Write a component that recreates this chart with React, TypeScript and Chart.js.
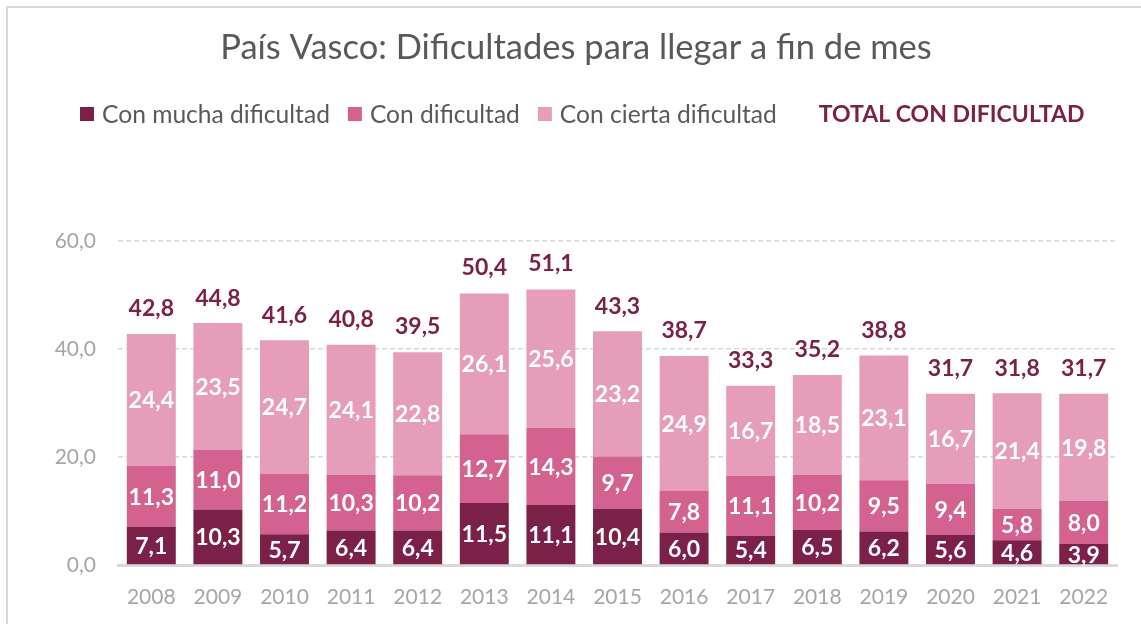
import React, { useEffect, useRef } from "react";
import { Chart, registerables } from "chart.js";

Chart.register(...registerables);

const categories = ["2008", "2009", "2010", "2011", "2012", "2013", "2014", "2015", "2016", "2017", "2018", "2019", "2020", "2021", "2022"];
const muchaDificultad = [7.1, 10.3, 5.7, 6.4, 6.4, 11.5, 11.1, 10.4, 6.0, 5.4, 6.5, 6.2, 5.6, 4.6, 3.9];
const conDificultad = [11.3, 11.0, 11.2, 10.3, 10.2, 12.7, 14.3, 9.7, 7.8, 11.1, 10.2, 9.5, 9.4, 5.8, 8.0];
const ciertaDificultad = [24.4, 23.5, 24.7, 24.1, 22.8, 26.1, 25.6, 23.2, 24.9, 16.7, 18.5, 23.1, 16.7, 21.4, 19.8];
const totalDificultad = [42.8, 44.8, 41.6, 40.8, 39.5, 50.4, 51.1, 43.3, 38.7, 33.3, 35.2, 38.8, 31.7, 31.8, 31.7];
const yTicks = [0, 20, 40, 60];

const TITLE = "País Vasco: Dificultades para llegar a fin de mes";
const COLORS = ["#7B2046", "#D4628E", "#E69DB9"];
const TOTAL_COLOR = "#7B2046";
const FONT = "Lato, 'Open Sans', sans-serif";

const fmt = (v: number) => v.toFixed(1).replace(".", ",");

const decorPlugin = {
  id: "decor",
  beforeDraw(chart: any) {
    const ctx = chart.ctx;
    ctx.save();
    ctx.fillStyle = "#ffffff";
    ctx.fillRect(0, 0, chart.width, chart.height);
    ctx.strokeStyle = "#d9d9d9";
    ctx.lineWidth = 2;
    ctx.strokeRect(7, 7, chart.width + 50, chart.height + 50);
    // title
    ctx.fillStyle = "#595959";
    ctx.font = `34.5px ${FONT}`;
    ctx.textAlign = "center";
    ctx.textBaseline = "middle";
    ctx.fillText(TITLE, 576, 48);
    // legend
    const names = ["Con mucha dificultad", "Con dificultad", "Con cierta dificultad"];
    let x = 80;
    const y = 114;
    ctx.textAlign = "left";
    ctx.font = `24.6px ${FONT}`;
    names.forEach((n, i) => {
      ctx.fillStyle = COLORS[i];
      ctx.fillRect(x, y - 7, 14, 14);
      x += 22;
      ctx.fillStyle = "#595959";
      ctx.fillText(n, x, y + 1);
      x += ctx.measureText(n).width + 18;
    });
    x += 24;
    ctx.font = `bold 23px ${FONT}`;
    ctx.fillStyle = TOTAL_COLOR;
    ctx.fillText("TOTAL CON DIFICULTAD", x, y + 1);
    ctx.restore();
  },
  afterDatasetsDraw(chart: any) {
    const ctx = chart.ctx;
    ctx.save();
    ctx.textAlign = "center";
    ctx.textBaseline = "middle";
    ctx.font = `bold 23px ${FONT}`;
    for (let d = 0; d < 3; d++) {
      const meta = chart.getDatasetMeta(d);
      const data = chart.data.datasets[d].data as number[];
      meta.data.forEach((el: any, i: number) => {
        ctx.fillStyle = "#ffffff";
        ctx.fillText(fmt(data[i]), el.x, (el.y + el.base) / 2 + 1);
      });
    }
    const tmeta = chart.getDatasetMeta(3);
    const tdata = chart.data.datasets[3].data as number[];
    tmeta.data.forEach((el: any, i: number) => {
      ctx.fillStyle = TOTAL_COLOR;
      ctx.fillText(fmt(tdata[i]), el.x, el.y - 25);
    });
    ctx.restore();
  },
};

export default function App() {
  const ref = useRef<HTMLCanvasElement | null>(null);
  useEffect(() => {
    if (!ref.current) return;
    const chart = new Chart(ref.current, {
      type: "bar",
      data: {
        labels: categories,
        datasets: [
          { label: "Con mucha dificultad", data: muchaDificultad, backgroundColor: COLORS[0], stack: "s", categoryPercentage: 1, barPercentage: 0.735 } as any,
          { label: "Con dificultad", data: conDificultad, backgroundColor: COLORS[1], stack: "s", categoryPercentage: 1, barPercentage: 0.735 } as any,
          { label: "Con cierta dificultad", data: ciertaDificultad, backgroundColor: COLORS[2], stack: "s", categoryPercentage: 1, barPercentage: 0.735 } as any,
          { type: "line", label: "TOTAL CON DIFICULTAD", data: totalDificultad, stack: "total", showLine: false, pointRadius: 0, borderColor: "transparent", backgroundColor: "transparent" } as any,
        ],
      },
      options: {
        responsive: false,
        animation: false,
        devicePixelRatio: 1,
        events: [],
        layout: { padding: { top: 241, right: 24, left: 0, bottom: 0 } },
        plugins: { legend: { display: false }, title: { display: false }, tooltip: { enabled: false } },
        scales: {
          x: {
            stacked: true,
            grid: { display: false, drawTicks: false },
            border: { display: true, color: "#d9d9d9", width: 3 },
            ticks: { color: "#a6a6a6", font: { family: FONT, size: 21 }, padding: 20 },
            afterFit: (s: any) => { s.height = 59; },
          },
          y: {
            stacked: true,
            min: 0,
            max: 60,
            afterBuildTicks: (s: any) => { s.ticks = yTicks.map((v) => ({ value: v })); },
            grid: {
              color: (c: any) => (c.tick && c.tick.value === 0 ? "transparent" : "#d9d9d9"),
              lineWidth: 1.5,
              drawTicks: false,
            },
            border: { display: false, dash: [5, 3] },
            ticks: {
              color: "#a6a6a6",
              font: { family: FONT, size: 21 },
              padding: 22,
              callback: (v: any) => fmt(Number(v)),
            },
            afterFit: (s: any) => { s.width = 118; },
          },
        },
      },
      plugins: [decorPlugin],
    } as any);
    return () => chart.destroy();
  }, []);
  return (
    <div style={{ position: "absolute", left: 0, top: 0, width: 1141, height: 624 }}>
      <canvas ref={ref} width={1141} height={624} style={{ width: 1141, height: 624, display: "block" }} />
    </div>
  );
}
